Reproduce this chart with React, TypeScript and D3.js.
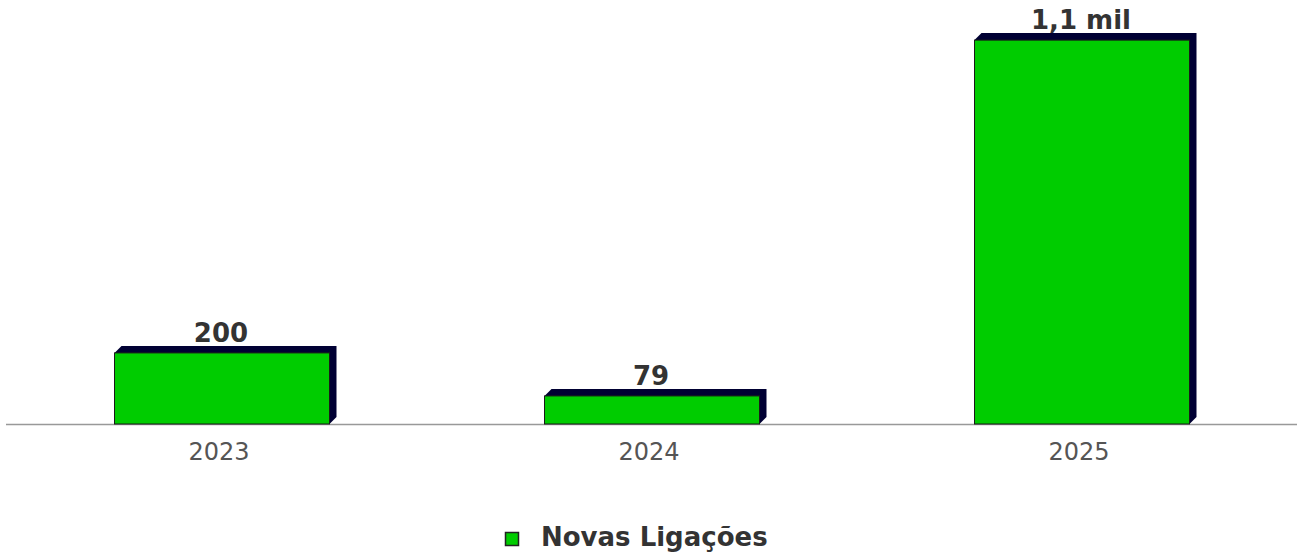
import React, { useEffect } from "react";
import * as d3 from "d3";

const years = ["2023", "2024", "2025"];
const values = [200, 79, 1080];
const valueLabels = ["200", "79", "1,1 mil"];
const seriesName = "Novas Ligações";

const W = 1301;
const H = 554;
const BASE = 424;
const DEPTH = 7;
const GREEN = "#00cc00";
const SHADOW = "#000033";
const FONT = "'DejaVu Sans', Verdana, sans-serif";

export default function App() {
  useEffect(() => {
    document.body.style.margin = "0";
  }, []);

  const x = d3.scaleBand<string>().domain(years).range([7, 1297]).paddingInner(0.5).paddingOuter(0.25);
  const y = d3.scaleLinear().domain([0, 1100]).range([BASE, 33]);

  return (
    <svg width={W} height={H} style={{ display: "block", background: "#fff" }}>
      <line x1={6} x2={1297} y1={BASE + 0.5} y2={BASE + 0.5} stroke="#999" strokeWidth={1.5} />
      {years.map((yr, i) => {
        const x0 = x(yr)!;
        const x1 = x0 + x.bandwidth();
        const y0 = y(values[i]);
        const pts = [
          [x0, y0],
          [x0 + DEPTH, y0 - DEPTH],
          [x1 + DEPTH, y0 - DEPTH],
          [x1 + DEPTH, BASE - DEPTH],
          [x1, BASE],
        ]
          .map((p) => p.join(","))
          .join(" ");
        const cx = x0 + x.bandwidth() / 2;
        return (
          <g key={yr}>
            <polygon points={pts} fill={SHADOW} />
            <rect x={x0} y={y0} width={x1 - x0} height={BASE - y0} fill={GREEN} stroke="#1a1a1a" strokeWidth={1} />
            <text
              x={cx - 1}
              y={y0 - DEPTH - 4}
              textAnchor="middle"
              fontFamily={FONT}
              fontWeight="bold"
              fontSize={26}
              fill="#333"
            >
              {valueLabels[i]}
            </text>
            <text x={cx - 3} y={460} textAnchor="middle" fontFamily={FONT} fontSize={24} fill="#555">
              {yr}
            </text>
          </g>
        );
      })}
      <rect x={505.5} y={532.5} width={13} height={13} fill={GREEN} stroke="#222" strokeWidth={1.5} />
      <text x={541} y={546} fontFamily={FONT} fontWeight="bold" fontSize={26} fill="#333">
        {seriesName}
      </text>
    </svg>
  );
}
